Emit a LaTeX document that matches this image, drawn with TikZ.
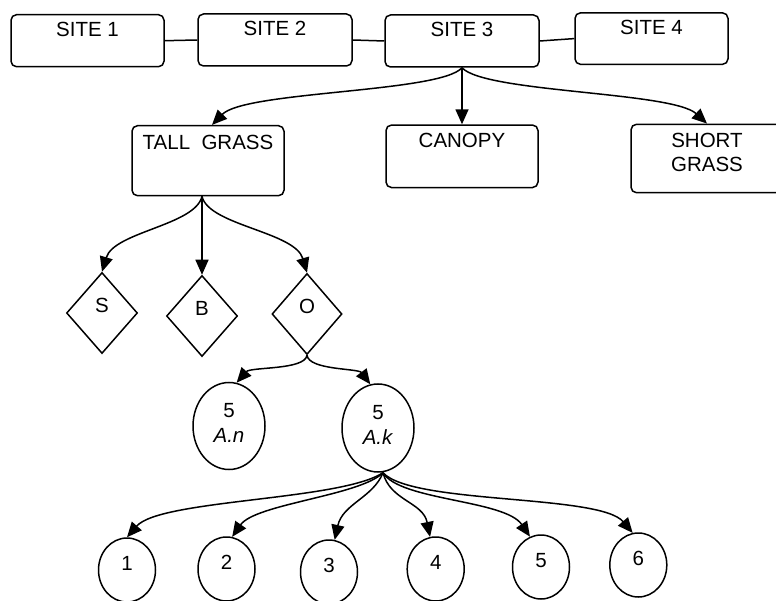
\documentclass[tikz,border=0pt]{standalone}
\usepackage{fontspec}
\setmainfont{Liberation Sans}
\usetikzlibrary{shapes.geometric,arrows.meta}
\newcommand{\btxt}[4]{\parbox[c][#2][t]{#1}{\centering\vspace*{#3}#4\par}}
\newcommand{\ovtxt}[2]{\smash{\raisebox{-16.5pt}{\parbox[b]{50pt}{\centering #1\\#2}}}}
\begin{document}
\begin{tikzpicture}[x=1pt,y=-1pt,
  line width=1.5pt,
  every node/.style={font=\fontsize{20.5}{24}\selectfont, inner sep=0pt},
  rbox/.style={draw, rectangle, rounded corners=5.5pt},
  dia/.style={draw, diamond, minimum width=71pt, minimum height=81pt},
  oval/.style={draw, ellipse, minimum width=72pt, minimum height=87pt, font=\fontsize{20.5}{25.5}\selectfont},
  leaf/.style={draw, ellipse, minimum width=57pt, minimum height=64pt},
  arr/.style={-{Triangle[length=15pt,width=13pt]}}
]
\useasboundingbox (0,0) rectangle (776,601);
\clip (0,0) rectangle (776,601);

% top row
\node[rbox] (s1) at (87.5,40.7) {\btxt{153pt}{52pt}{7pt}{SITE 1}};
\node[rbox] (s2) at (275,40)    {\btxt{154pt}{52pt}{7.5pt}{SITE 2}};
\node[rbox] (s3) at (462,41)    {\btxt{154pt}{52pt}{7.5pt}{SITE 3}};
\node[rbox] (s4) at (651.5,38.6){\btxt{153pt}{51.5pt}{7.5pt}{SITE 4}};

% second row
\node[rbox] (tg) at (208,160.7) {\btxt{152pt}{70pt}{9pt}{TALL\ \ GRASS}};
\node[rbox] (cn) at (462,156.3) {\btxt{152pt}{62.5pt}{8pt}{CANOPY}};
\node[rbox] (sg) at (707,158.5) {\btxt{152pt}{68.4pt}{8.5pt}{SHORT\\GRASS}};

% diamonds
\node[dia] (dS) at (102,313) {\smash{S}};
\node[dia] (dB) at (202,316) {\smash{B}};
\node[dia, minimum width=70pt] (dO) at (307,314) {\smash{O}};

% species
\node[oval] (an) at (229,426) {\ovtxt{5}{\textit{A.n}}};
\node[oval, minimum height=88pt] (ak) at (378,428) {\ovtxt{5}{\textit{A.k}}};

% leaves
\node[leaf] (c1) at (127,570)   {\smash{1}};
\node[leaf] (c2) at (226.5,569) {\smash{2}};
\node[leaf] (c3) at (329,572)   {\smash{3}};
\node[leaf] (c4) at (435.7,569) {\smash{4}};
\node[leaf] (c5) at (541,567)   {\smash{5}};
\node[leaf] (c6) at (638.3,565) {\smash{6}};

% connectors
\draw (s1.east) -- (s2.west);
\draw (s2.east) -- (s3.west);
\draw (s3.east) -- (s4.west);

\draw[arr] (s3.south) .. controls +(-22,25) and +(33,-34) .. ([xshift=4pt]tg.north);
\draw[arr] (s3.south) -- (cn.north);
\draw[arr] (s3.south) .. controls +(23,25) and +(-35,-32) .. (sg.north);

\draw[arr] ([xshift=-6pt]tg.south) .. controls +(-7,29) and +(12,-40) .. (dS.north);
\draw[arr] ([xshift=-6pt]tg.south) -- (dB.north);
\draw[arr] ([xshift=-6pt]tg.south) .. controls +(7,29) and +(-12,-41) .. (dO.north);

\draw[arr] (dO.south) .. controls +(-2,15) and +(14,-16) .. (an.80);
\draw[arr] (dO.south) .. controls +(2,15) and +(-12,-16) .. (ak.100);

\draw[arr] ([xshift=5pt]ak.south) .. controls +(-43,28) and +(33,-38) .. (c1.north);
\draw[arr] ([xshift=5pt]ak.south) .. controls +(-23,23) and +(23,-33) .. (c2.80);
\draw[arr] ([xshift=5pt]ak.south) .. controls +(-10,25) and +(8,-36) .. (c3.80);
\draw[arr] ([xshift=5pt]ak.south) .. controls +(7,28) and +(-7,-35) .. (c4.100);
\draw[arr] ([xshift=5pt]ak.south) .. controls +(17,28) and +(-25,-37) .. (c5.110);
\draw[arr] ([xshift=5pt]ak.south) .. controls +(30,32) and +(-33,-39) .. (c6.100);
\end{tikzpicture}
\end{document}
